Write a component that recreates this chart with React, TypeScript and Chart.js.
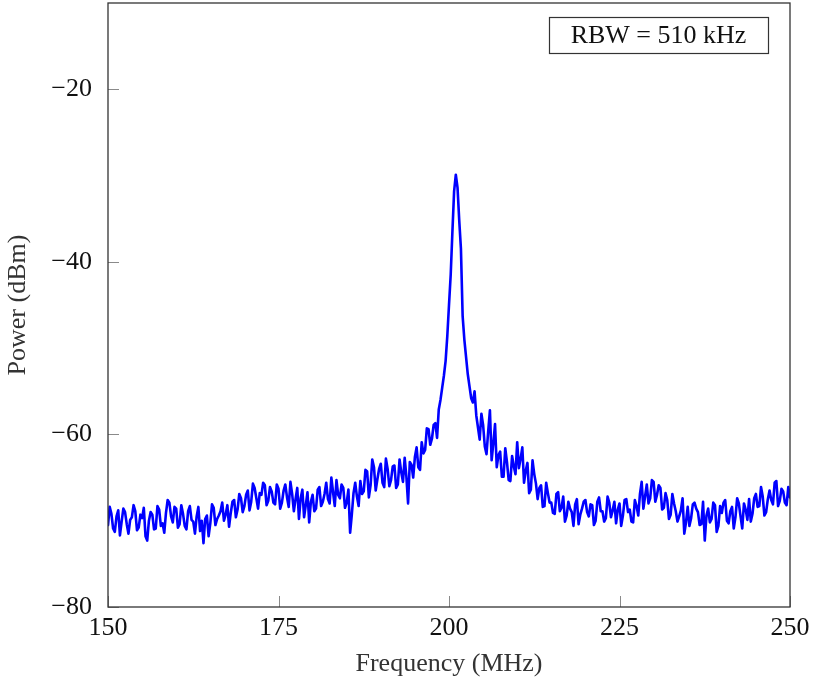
import React, { useEffect, useRef } from "react";
import { Chart, registerables } from "chart.js";

Chart.register(...registerables);

// Sample grid: 150 MHz to 250 MHz in 0.5 MHz steps, plus the samples in between (x.25 / x.75)
const F_START = 150;
const F_STEP = 0.5;

// Measured power (dBm) at 150, 150.5, 151, ... 250 MHz
const powerDbm: number[] = [
  // 150 - 154.5
  -70.5, -69.2, -71.3, -68.8, -70.1, -69.0, -71.5, -69.6, -68.9, -70.8,
  // 155 - 159.5
  -69.7, -71.8, -70.0, -69.3, -70.9, -68.7, -70.3, -69.1, -67.9, -70.2,
  // 160 - 164.5
  -68.6, -70.4, -69.2, -71.0, -68.3, -70.1, -69.5, -71.2, -72.6, -69.4,
  // 165 - 169.5
  -70.3, -68.5, -69.8, -68.9, -70.0, -68.2, -69.1, -67.6, -68.7, -67.4,
  // 170 - 174.5
  -68.3, -66.5, -67.8, -66.2, -68.6, -67.0, -65.9, -67.7, -66.6, -68.1,
  // 175 - 179.5
  -66.3, -67.9, -65.8, -68.4, -66.9, -67.5, -69.8, -66.4, -68.2, -70.2,
  // 180 - 184.5
  -67.0, -68.6, -66.1, -67.8, -65.6, -68.0, -66.7, -65.3, -67.4, -66.2,
  // 185 - 189.5
  -67.9, -71.4, -66.8, -67.2, -65.4, -66.6, -64.3, -65.9, -63.8, -65.2,
  // 190 - 194.5
  -63.4, -66.1, -64.0, -65.3, -63.6, -65.8, -64.4, -62.7, -68.0, -63.5,
  // 195 - 199.5
  -62.6, -63.8, -60.9, -61.8, -59.4, -60.5, -58.7, -57.1, -54.6, -51.5,
  // 200 - 204.5
  -45.0, -36.5, -29.9, -35.2, -46.3, -51.0, -54.4, -56.3, -57.8, -60.6,
  // 205 - 209.5
  -58.9, -62.3, -57.2, -61.0, -63.8, -62.0, -64.9, -63.2, -65.4, -63.7,
  // 210 - 214.5
  -60.9, -62.8, -65.6, -63.3, -66.4, -64.6, -67.5, -65.9, -68.3, -66.8,
  // 215 - 219.5
  -67.9, -69.2, -66.7, -68.5, -70.1, -67.8, -69.0, -68.1, -70.4, -68.6,
  // 220 - 224.5
  -67.6, -69.5, -68.2, -70.0, -67.3, -68.9, -69.7, -67.9, -68.8, -70.3,
  // 225 - 229.5
  -68.0, -69.4, -67.5, -68.7, -70.2, -68.3, -66.9, -68.6, -65.8, -67.4,
  // 230 - 234.5
  -65.5, -67.0, -66.2, -68.5, -67.6, -69.3, -68.0, -70.1, -68.8, -71.5,
  // 235 - 239.5
  -68.4, -69.7, -67.9, -69.0, -70.4, -72.3, -68.6, -69.8, -68.2, -70.6,
  // 240 - 244.5
  -69.1, -67.6, -70.3, -68.4, -69.6, -68.0, -70.9, -68.7, -67.5, -69.2,
  // 245 - 249.5
  -66.9, -68.3, -67.2, -69.0, -66.5, -68.1, -65.4, -67.7, -66.6, -68.2,
  // 250
  -67.3,
];

// Measured power (dBm) at 150.25, 150.75, ... 249.75 MHz
const powerDbmMid: number[] = [
  // 150.25 - 154.75
  -68.4, -70.9, -69.5, -71.7, -68.6, -70.4, -69.9, -68.2, -71.1, -69.3,
  // 155.25 - 159.75
  -68.5, -72.3, -69.0, -71.0, -68.3, -70.6, -71.4, -67.6, -69.5, -68.4,
  // 160.25 - 164.75
  -70.8, -68.2, -70.6, -68.9, -69.9, -71.5, -68.4, -70.0, -69.8, -71.8,
  // 165.25 - 169.75
  -68.1, -70.5, -69.4, -67.9, -69.3, -70.7, -67.8, -69.6, -66.9, -69.0,
  // 170.25 - 174.75
  -67.0, -68.8, -65.7, -67.4, -66.8, -65.6, -68.2, -66.1, -67.9, -65.8,
  // 175.25 - 179.75
  -68.6, -66.5, -67.3, -65.5, -68.9, -66.2, -67.4, -69.6, -66.7, -67.8,
  // 180.25 - 184.75
  -68.9, -66.4, -68.3, -66.9, -67.5, -65.0, -68.3, -67.0, -65.8, -68.5,
  // 185.25 - 189.75
  -66.4, -69.3, -65.6, -68.3, -66.9, -64.1, -67.3, -62.9, -66.5, -64.0,
  // 190.25 - 194.75
  -65.6, -62.8, -66.0, -63.7, -66.2, -62.9, -65.5, -64.9, -63.2, -65.0,
  // 195.25 - 199.75
  -61.5, -64.1, -62.2, -59.3, -61.2, -58.9, -60.4, -56.0, -53.2, -48.6,
  // 200.25 - 204.75
  -41.5, -31.8, -31.4, -38.5, -49.0, -53.0, -55.8, -55.0, -59.2, -57.6,
  // 205.25 - 209.75
  -61.4, -59.6, -63.0, -58.8, -62.4, -64.9, -61.6, -65.3, -62.5, -64.6,
  // 210.25 - 214.75
  -63.9, -61.5, -64.2, -66.8, -63.0, -65.7, -66.2, -68.4, -65.6, -67.9,
  // 215.25 - 219.75
  -69.1, -66.9, -68.9, -67.2, -69.4, -68.6, -70.6, -67.5, -69.3, -67.8,
  // 220.25 - 224.75
  -69.0, -68.1, -70.5, -67.8, -68.9, -70.1, -67.2, -69.6, -67.8, -68.7,
  // 225.25 - 229.75
  -70.6, -67.6, -69.0, -70.1, -67.6, -69.4, -65.5, -67.2, -68.0, -65.3,
  // 230.25 - 234.75
  -67.8, -65.9, -68.7, -66.8, -69.8, -66.9, -68.9, -69.5, -67.4, -70.2,
  // 235.25 - 239.75
  -70.6, -68.1, -68.6, -70.5, -67.8, -69.4, -70.2, -67.9, -71.3, -68.3,
  // 240.25 - 244.75
  -67.9, -70.0, -68.9, -70.9, -67.4, -69.5, -68.0, -69.9, -70.1, -67.4,
  // 245.25 - 249.75
  -68.4, -66.1, -69.4, -67.5, -67.6, -65.6, -68.3, -66.3, -67.9, -66.1,
];

const xTickValues: number[] = [150, 175, 200, 225, 250];
const yTickValues: number[] = [-80, -60, -40, -20];

const legendText = "RBW = 510 kHz";
const xTitle = "Frequency (MHz)";
const yTitle = "Power (dBm)";

const FONT = "'Liberation Serif', 'DejaVu Serif', serif";
const FS = 26;
const FRAME = "#333333";

const framePlugin = {
  id: "framePlugin",
  afterDatasetsDraw(chart: any) {
    const { ctx, chartArea, scales } = chart;
    const { left, right, top, bottom } = chartArea;
    ctx.save();
    // inward ticks
    ctx.strokeStyle = "#8a8a8a";
    ctx.lineWidth = 1;
    const tl = 11;
    ctx.beginPath();
    for (const t of scales.x.ticks) {
      const px = Math.round(scales.x.getPixelForValue(t.value)) + 0.5;
      ctx.moveTo(px, bottom);
      ctx.lineTo(px, bottom - tl);
    }
    for (const t of scales.y.ticks) {
      const py = Math.round(scales.y.getPixelForValue(t.value)) + 0.5;
      ctx.moveTo(left, py);
      ctx.lineTo(left + tl, py);
    }
    ctx.stroke();
    // frame
    ctx.strokeStyle = FRAME;
    ctx.lineWidth = 1.3;
    ctx.strokeRect(left, top, right - left, bottom - top);
    // legend box
    ctx.font = `${FS}px ${FONT}`;
    const w = 219;
    const h = 36;
    const bx = right - 22 - w;
    const by = top + 14;
    ctx.fillStyle = "#ffffff";
    ctx.fillRect(bx, by, w, h);
    ctx.lineWidth = 1.2;
    ctx.strokeStyle = FRAME;
    ctx.strokeRect(bx + 0.5, by + 0.5, w, h);
    ctx.fillStyle = "#111111";
    ctx.textAlign = "center";
    ctx.textBaseline = "middle";
    ctx.fillText(legendText, bx + w / 2, by + h / 2 + 1);
    ctx.restore();
  },
};

export default function App() {
  const ref = useRef<HTMLCanvasElement | null>(null);

  useEffect(() => {
    if (!ref.current) return;
    const pts = powerDbm
      .map((v, i) => ({ x: F_START + i * F_STEP, y: v }))
      .concat(powerDbmMid.map((v, i) => ({ x: F_START + F_STEP / 2 + i * F_STEP, y: v })))
      .sort((a, b) => a.x - b.x);

    const chart = new Chart(ref.current, {
      type: "line",
      data: {
        datasets: [
          {
            label: legendText,
            data: pts,
            borderColor: "#0000ff",
            borderWidth: 2.6,
            borderJoinStyle: "round",
            borderCapStyle: "round",
            pointRadius: 0,
            tension: 0,
            fill: false,
          },
        ],
      },
      options: {
        responsive: false,
        animation: false,
        layout: { padding: { left: 0, right: 23, top: 3, bottom: 0 } },
        plugins: { legend: { display: false }, tooltip: { enabled: false } },
        scales: {
          x: {
            type: "linear",
            min: 150,
            max: 250,
            border: { display: false },
            grid: { display: false, drawTicks: false },
            afterBuildTicks: (s: any) => {
              s.ticks = xTickValues.map((v) => ({ value: v }));
            },
            afterFit: (s: any) => {
              s.height = 75;
              s.paddingLeft = 0;
              s.paddingRight = 0;
            },
            ticks: {
              padding: 6,
              color: "#111",
              font: { family: FONT, size: FS },
              maxRotation: 0,
              callback: (v: any) => String(v),
            },
            title: {
              display: true,
              text: xTitle,
              color: "#333",
              font: { family: FONT, size: FS },
              padding: { top: 0, bottom: 2.4 },
            },
          },
          y: {
            type: "linear",
            min: -80,
            max: -10,
            border: { display: false },
            grid: { display: false, drawTicks: false },
            afterBuildTicks: (s: any) => {
              s.ticks = yTickValues.map((v) => ({ value: v }));
            },
            afterFit: (s: any) => {
              s.width = 108;
              s.paddingTop = 0;
              s.paddingBottom = 0;
            },
            ticks: {
              padding: 16,
              color: "#111",
              font: { family: FONT, size: FS },
              callback: (v: any) => (v < 0 ? "\u2212" + Math.abs(v) : String(v)),
            },
            title: {
              display: true,
              text: yTitle,
              color: "#333",
              font: { family: FONT, size: FS },
              padding: { top: 2.4, bottom: 0 },
            },
          },
        },
      },
      plugins: [framePlugin],
    });
    return () => chart.destroy();
  }, []);

  return (
    <div style={{ position: "fixed", left: 0, top: 0, width: 813, height: 682, background: "#fff" }}>
      <canvas ref={ref} width={813} height={682} style={{ width: 813, height: 682, display: "block" }} />
    </div>
  );
}
